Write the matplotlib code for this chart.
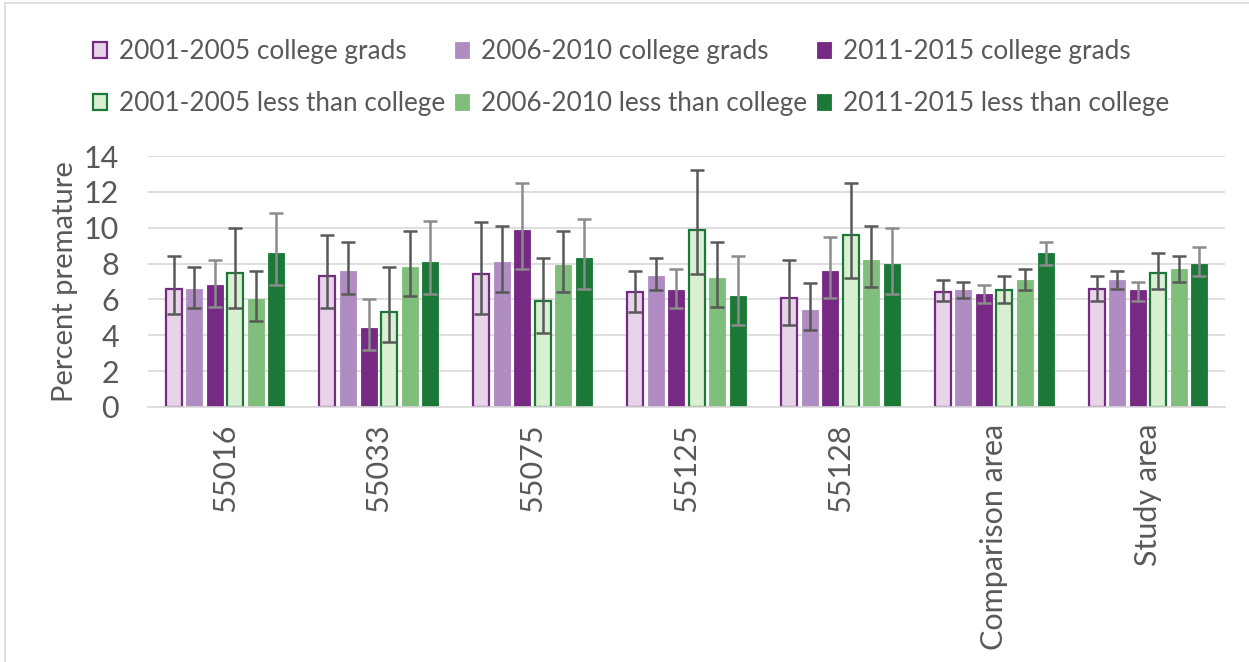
import matplotlib
matplotlib.use("Agg")
import matplotlib.pyplot as plt
import numpy as np
from matplotlib.patches import Rectangle

categories = ["55016", "55033", "55075", "55125", "55128", "Comparison area", "Study area"]
series_names = ["2001-2005 college grads", "2006-2010 college grads", "2011-2015 college grads",
                "2001-2005 less than college", "2006-2010 less than college", "2011-2015 less than college"]

cg01 = [6.6, 7.3, 7.4, 6.4, 6.1, 6.4, 6.6]
cg01_lo = [5.2, 5.5, 5.2, 5.3, 4.6, 5.9, 5.9]
cg01_hi = [8.4, 9.6, 10.3, 7.6, 8.2, 7.1, 7.3]

cg06 = [6.6, 7.6, 8.1, 7.3, 5.4, 6.5, 7.1]
cg06_lo = [5.5, 6.3, 6.4, 6.5, 4.3, 6.1, 6.6]
cg06_hi = [7.8, 9.2, 10.1, 8.3, 6.9, 7.0, 7.6]

cg11 = [6.8, 4.4, 9.9, 6.5, 7.6, 6.3, 6.5]
cg11_lo = [5.6, 3.2, 7.7, 5.5, 6.1, 5.8, 5.9]
cg11_hi = [8.2, 6.0, 12.5, 7.7, 9.5, 6.8, 7.0]

ltc01 = [7.5, 5.3, 5.9, 9.9, 9.6, 6.5, 7.5]
ltc01_lo = [5.5, 3.6, 4.1, 7.4, 7.2, 5.8, 6.6]
ltc01_hi = [10.0, 7.8, 8.3, 13.2, 12.5, 7.3, 8.6]

ltc06 = [6.0, 7.8, 7.9, 7.2, 8.2, 7.1, 7.7]
ltc06_lo = [4.8, 6.2, 6.4, 5.6, 6.7, 6.5, 7.0]
ltc06_hi = [7.6, 9.8, 9.8, 9.2, 10.1, 7.7, 8.4]

ltc11 = [8.6, 8.1, 8.3, 6.2, 8.0, 8.6, 8.0]
ltc11_lo = [6.8, 6.3, 6.6, 4.6, 6.3, 7.9, 7.3]
ltc11_hi = [10.8, 10.4, 10.5, 8.4, 10.0, 9.2, 8.9]

y_ticks = [0, 2, 4, 6, 8, 10, 12, 14]

values = [cg01, cg06, cg11, ltc01, ltc06, ltc11]
lows = [cg01_lo, cg06_lo, cg11_lo, ltc01_lo, ltc06_lo, ltc11_lo]
highs = [cg01_hi, cg06_hi, cg11_hi, ltc01_hi, ltc06_hi, ltc11_hi]

faces = ["#e7d4e8", "#af8dc3", "#762a83", "#d9f0d3", "#7fbf7b", "#1b7837"]
edges = ["#762a83", "#af8dc3", "#762a83", "#1b7837", "#7fbf7b", "#1b7837"]
ecols = ["#595959", "#595959", "#8c8c8c", "#595959", "#595959", "#8c8c8c"]

FONT = "Lato"
TXT = "#595959"

fig = plt.figure(figsize=(12.49, 6.62), dpi=100)
ax = fig.add_axes([148/1249, 1-407/662, (1225-148)/1249, (407-156)/662])

x = np.arange(len(categories))
step = 0.1335
width = 0.104
handles = []
for i, (v, lo, hi) in enumerate(zip(values, lows, highs)):
    xs = x + (i - 2.5) * step
    v = np.array(v); lo = np.array(lo); hi = np.array(hi)
    lw = 1.6 if i in (0, 3) else 0.6
    b = ax.bar(xs, v, width=width, color=faces[i], edgecolor=edges[i], linewidth=lw,
               label=series_names[i], zorder=2)
    ax.errorbar(xs, v, yerr=[v - lo, hi - v], fmt="none", ecolor=ecols[i],
                elinewidth=1.8, capsize=5, capthick=1.8, zorder=3)
    handles.append(b)

ax.set_ylim(0, 14)
ax.set_xlim(-0.5, len(categories) - 0.5)
ax.set_yticks(y_ticks)
ax.set_xticks(x)
ax.set_xticklabels(categories, rotation=90, family=FONT, fontsize=22, color=TXT)
for t in ax.get_yticklabels():
    t.set_family(FONT); t.set_fontsize(22); t.set_color(TXT)
ax.tick_params(axis="x", length=0, pad=12)
ax.tick_params(axis="y", length=0, pad=21)
ax.yaxis.grid(True, color="#d9d9d9", linewidth=1.2, zorder=0)
ax.set_axisbelow(True)
for s in ["top", "right", "left"]:
    ax.spines[s].set_visible(False)
ax.spines["bottom"].set_color("#d9d9d9")
ax.spines["bottom"].set_linewidth(1.2)
ax.set_ylabel("Percent premature", family=FONT, fontsize=21, color=TXT, labelpad=4)

order = [0, 3, 1, 4, 2, 5]
leg = fig.legend([handles[k] for k in order], [series_names[k] for k in order],
                 ncol=3, loc="upper left", bbox_to_anchor=(93/1249, 1 - 39/662),
                 frameon=False, prop={"family": FONT, "size": 18.8},
                 handlelength=0.54, handleheight=0.54, handletextpad=0.45,
                 columnspacing=0.38, labelspacing=1.05, borderaxespad=0, borderpad=0)
for t in leg.get_texts():
    t.set_color(TXT)

fig.patches.append(Rectangle((5/1249, -0.1), 1.2, 1 - 3/662 + 0.1, transform=fig.transFigure,
                             fill=False, edgecolor="#d9d9d9", linewidth=1.2))

fig.savefig("out.png", dpi=100)
